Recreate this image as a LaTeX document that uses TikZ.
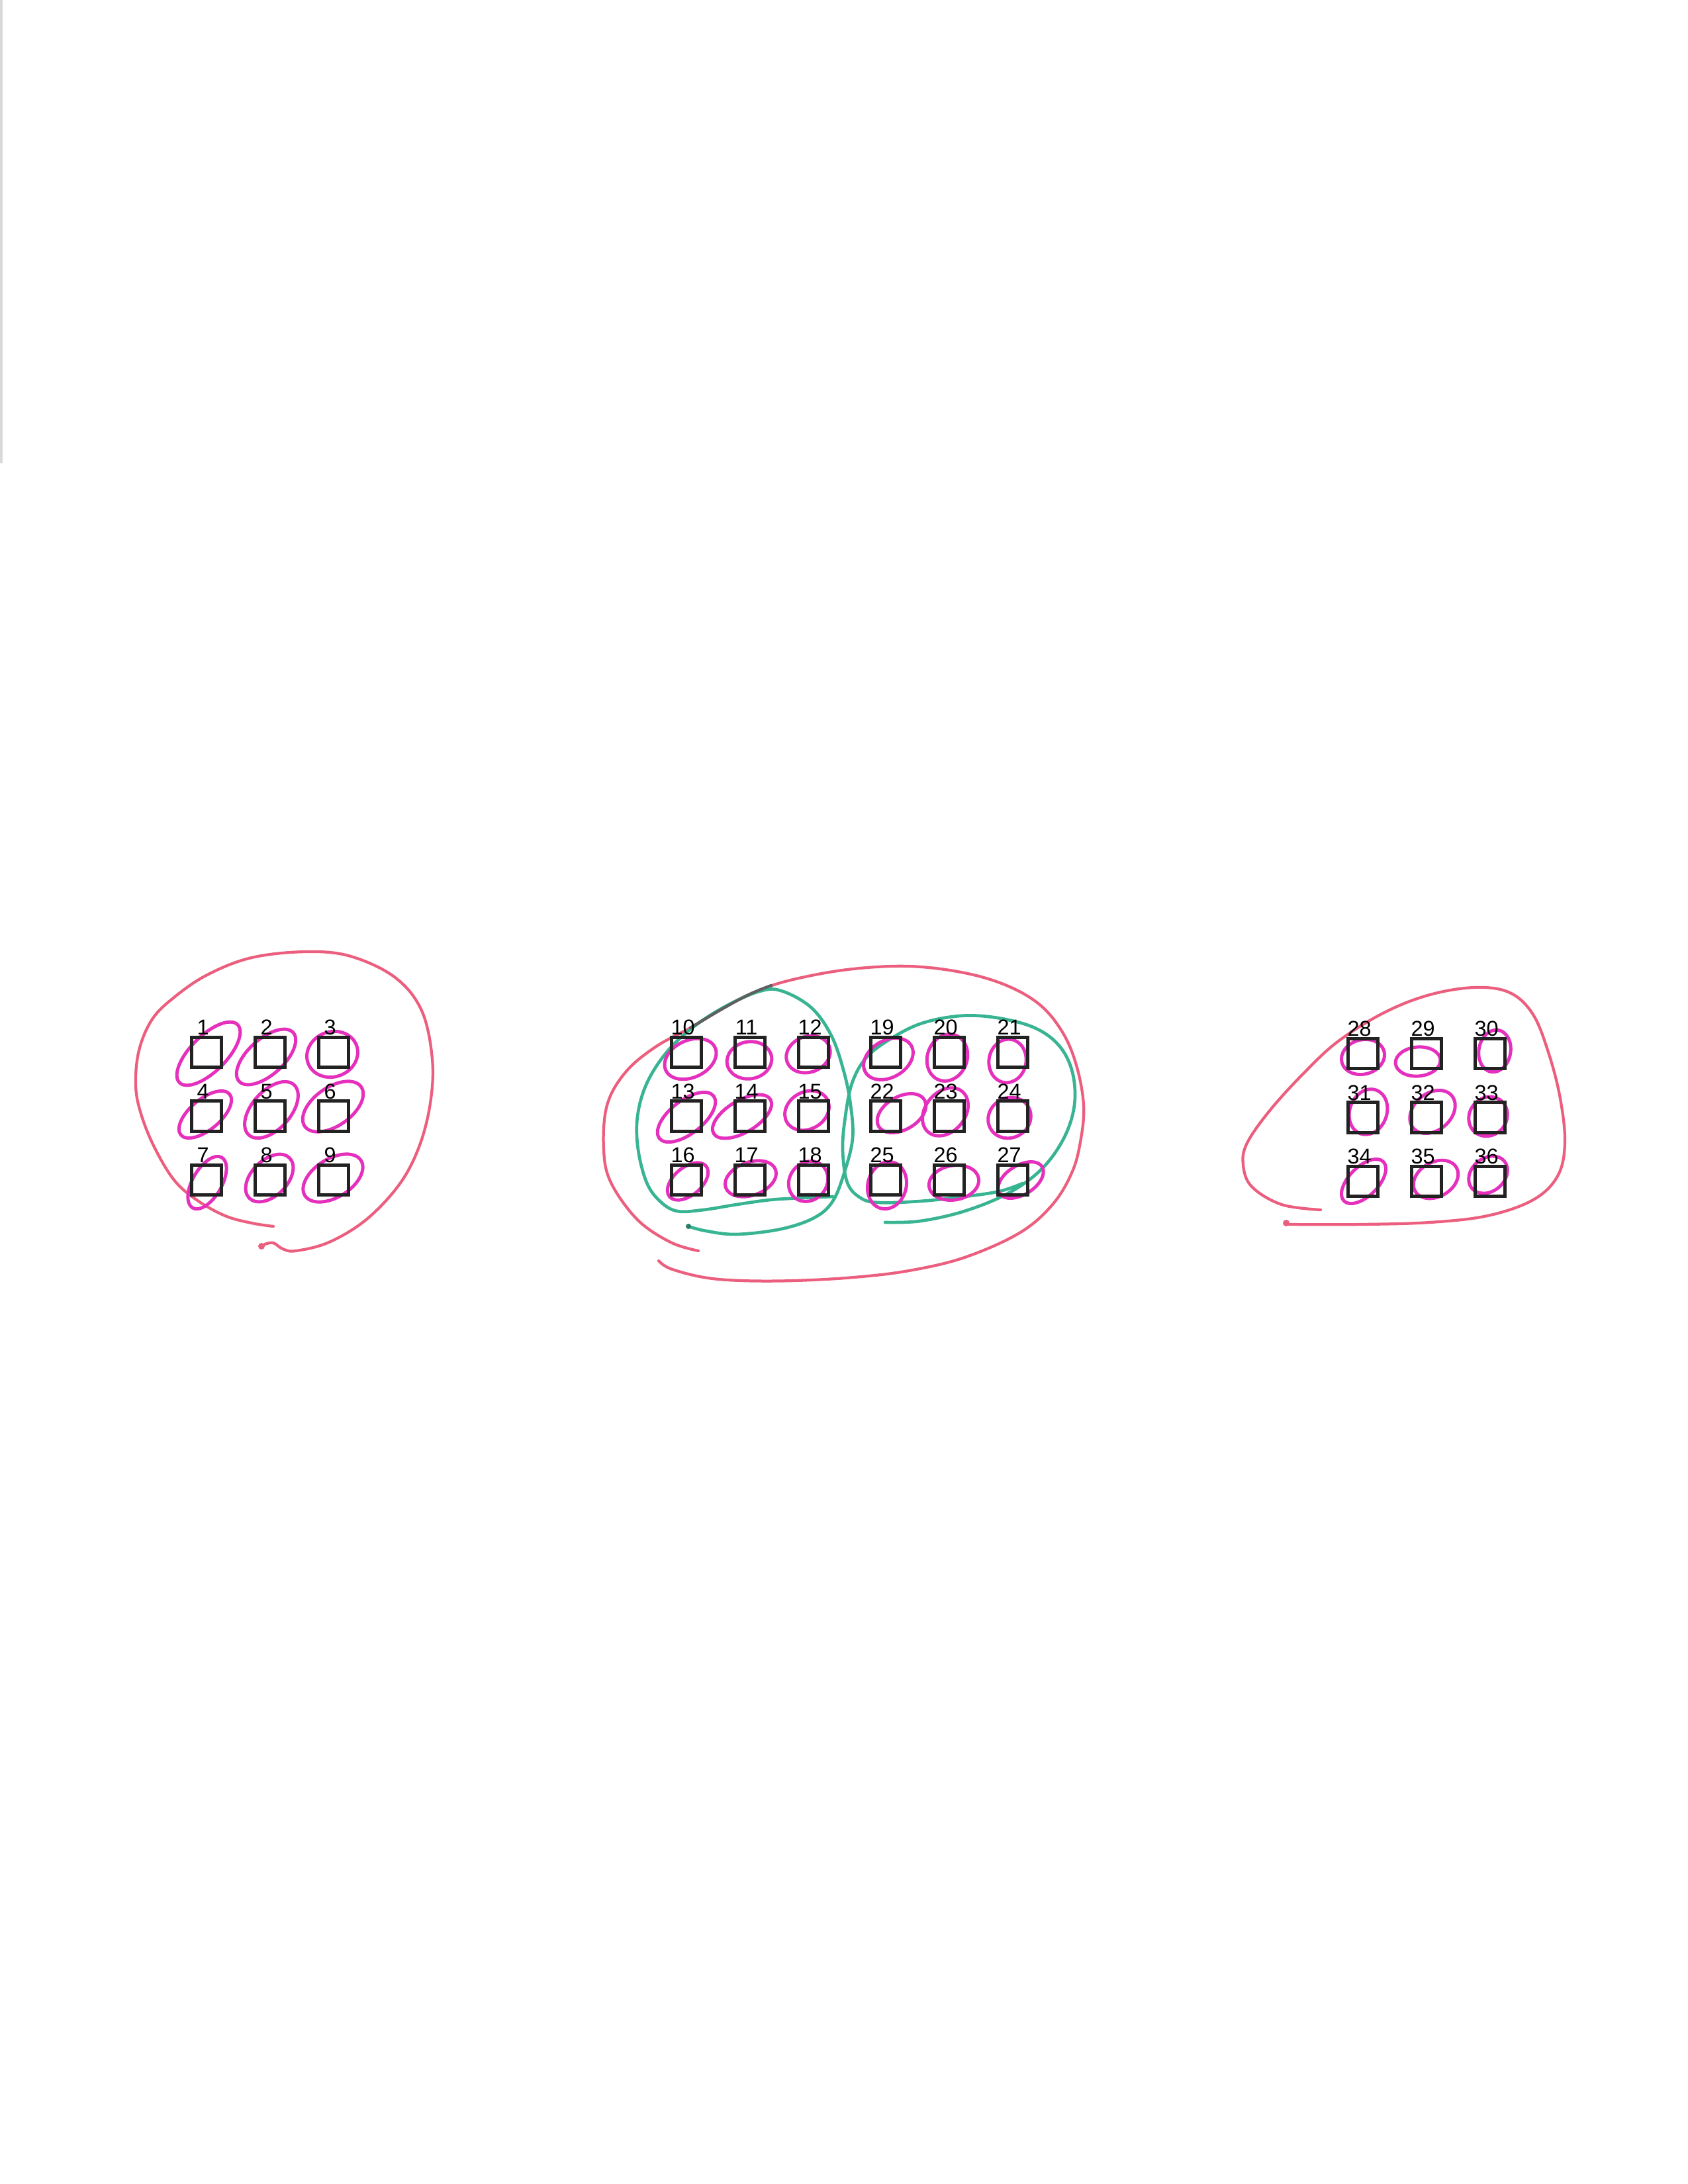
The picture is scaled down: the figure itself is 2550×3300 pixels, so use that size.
\documentclass[tikz,border=0pt]{standalone}
\usepackage{fontspec}
\setmainfont{Liberation Sans}
\usepackage{tikz}
\usetikzlibrary{calc}
\usepackage{xcolor}
\definecolor{penred}{RGB}{236,94,126}
\definecolor{penmagenta}{RGB}{228,48,188}
\definecolor{pengreen}{RGB}{56,180,146}
\definecolor{pengray}{RGB}{92,96,96}
\definecolor{boxgray}{RGB}{34,34,34}
\tikzset{
  cell/.style={draw=boxgray, line width=0.42mm, minimum size=3.85mm, inner sep=0pt},
  tag/.style={inner sep=0pt, xshift=-0.45mm, font=\fontsize{7.8}{9}\selectfont},
  ring/.style={penmagenta, line width=0.42mm},
  loopline/.style={line width=0.36mm, line cap=round, line join=round},
}

\begin{document}
\begin{tikzpicture}[x=0.0846667mm, y=-0.0846667mm]
  \useasboundingbox (0,0) rectangle (2550,3300);
  \draw[gray!30, line width=0.3mm] (2,0) -- (2,700);

  \draw[loopline, penred] plot[smooth, tension=0.6] coordinates {(413,1853) (380,1848) (340,1837) (297,1813) (263,1783) (233,1733) (213,1683) (205,1640) (210,1587) (230,1540) (263,1507) (313,1473) (380,1447) (463,1438) (530,1445) (597,1477) (637,1527) (653,1600) (650,1667) (633,1733) (603,1790) (553,1843) (497,1877) (447,1890) (427,1887) (413,1878) (400,1880) (395,1883)};
  \fill[penred] (395,1883) circle[radius=5];

  \draw[loopline, penred] plot[smooth, tension=0.6] coordinates {(1055,1890) (1013,1877) (963,1843) (923,1787) (912,1737) (917,1670) (945,1620) (990,1582) (1043,1553) (1090,1525) (1133,1502) (1190,1482) (1280,1465) (1373,1460) (1457,1470) (1523,1490) (1573,1520) (1607,1563) (1627,1613) (1637,1670) (1633,1720) (1620,1770) (1590,1820) (1540,1863) (1457,1900) (1373,1920) (1290,1930) (1200,1935) (1120,1935) (1063,1930) (1013,1917) (995,1905)};

  \draw[loopline, pengreen, line width=0.4mm] plot[smooth, tension=0.6] coordinates {(1040,1853) (1067,1860) (1113,1865) (1180,1857) (1230,1840) (1258,1815) (1276,1770) (1288,1720) (1285,1670) (1275,1620) (1256,1565) (1225,1522) (1180,1497) (1147,1498) (1097,1520) (1047,1552) (1007,1590) (977,1637) (963,1687) (964,1737) (977,1787) (997,1815) (1023,1830) (1063,1828) (1113,1820) (1163,1813) (1213,1810) (1258,1808)};
  \fill[pengreen!70!black] (1040,1853) circle[radius=4];
  \draw[loopline, pengreen, line width=0.4mm] plot[smooth, tension=0.6] coordinates {(1337,1847) (1390,1845) (1457,1830) (1523,1803) (1573,1767) (1607,1720) (1623,1670) (1620,1620) (1600,1580) (1563,1553) (1507,1538) (1450,1535) (1390,1547) (1340,1573) (1307,1600) (1287,1637) (1277,1687) (1273,1737) (1280,1787) (1300,1810) (1327,1817) (1390,1815) (1457,1808) (1510,1800) (1545,1788)};
  \draw[loopline, pengray] plot[smooth, tension=0.6] coordinates {(1043,1553) (1090,1525) (1133,1502) (1165,1489)};

  \draw[loopline, penred] plot[smooth, tension=0.6] coordinates {(1995,1828) (1936,1820) (1891,1793) (1878,1760) (1884,1727) (1919,1677) (1971,1620) (2022,1573) (2091,1530) (2160,1503) (2229,1492) (2281,1500) (2316,1533) (2340,1593) (2357,1660) (2364,1727) (2353,1777) (2316,1813) (2247,1837) (2160,1847) (2057,1850) (1953,1850) (1943,1848)};
  \fill[penred] (1943,1848) circle[radius=5];

  \foreach \cx/\cy/\a/\b/\t in {315/1592/62/27/45, 402/1597/55/27/42, 502/1593/39/34/20,
      310/1684/48/23/40, 410/1677/51/29/48, 503/1672/52/29/35,
      313/1787/44/22/60, 407/1780/43/27/45, 503/1780/50/29/32,
      1043/1600/41/28/25, 1132/1602/34/28/10, 1221/1593/34/27/20,
      1037/1688/52/25/38, 1121/1687/50/24/31, 1219/1678/35/28/30,
      1039/1785/36/21/40, 1134/1781/40/25/20, 1221/1785/32/28/50,
      1342/1600/40/28/30, 1431/1598/36/30/70, 1522/1603/33/28/80,
      1362/1682/40/25/30, 1428/1680/40/30/50, 1525/1689/33/30/30,
      1340/1791/36/29/75, 1441/1787/38/26/10, 1542/1783/38/22/32,
      2059/1597/33/26/15, 2142/1604/34/22/5, 2258/1588/32/24/80,
      2067/1680/35/28/70, 2164/1680/38/28/40, 2248/1687/31/28/50,
      2060/1785/42/22/45, 2169/1782/36/26/30, 2248/1775/32/25/40}
    \draw[ring] (\cx,\cy) circle[x radius=\a, y radius=\b, rotate=\t];

  \foreach \first/\xa/\ya in {1/312/1590, 10/1037/1590, 19/1338/1590, 28/2059/1592}
    \foreach \r in {0,1,2}
      \foreach \c in {0,1,2} {
        \pgfmathtruncatemacro{\n}{\first+3*\r+\c}
        \node[cell, label={[tag]above:\n}] (s\n) at (\xa+96*\c, \ya+96.5*\r) {};
      }
\end{tikzpicture}
\end{document}
